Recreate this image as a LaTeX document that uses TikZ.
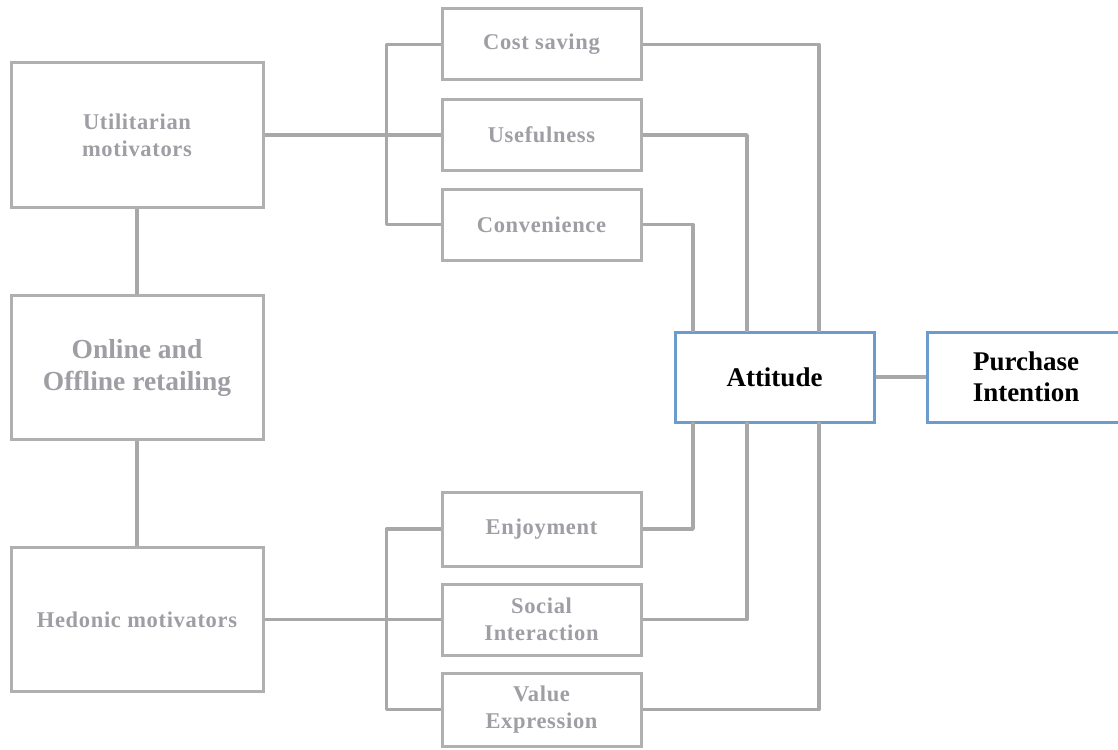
\documentclass[tikz,border=0pt]{standalone}
\usepackage{fontspec}
\setmainfont{Liberation Serif}
\newfontfamily\spacedserif[LetterSpace=3]{Liberation Serif}
\definecolor{linegrey}{RGB}{168,168,168}
\definecolor{boxgrey}{RGB}{176,176,176}
\definecolor{textgrey}{RGB}{158,158,164}
\definecolor{framblue}{RGB}{108,155,205}
\tikzset{
  conn/.style={draw=linegrey, line width=3.6pt},
  greybox/.style={draw=boxgrey, line width=3pt, fill=white, rectangle,
    inner sep=0pt, align=center, text=textgrey,
    font=\spacedserif\bfseries\fontsize{22.5}{27}\selectfont},
  bigbox/.style={greybox, minimum width=252pt, minimum height=144pt,
    font=\bfseries\fontsize{27.5}{32}\selectfont},
  motbox/.style={greybox, minimum width=252pt, minimum height=144pt},
  factor/.style={greybox, minimum width=199pt, minimum height=71pt},
  bluebox/.style={draw=framblue, line width=3pt, fill=white, rectangle,
    inner sep=0pt, align=center, text=black,
    minimum width=199pt, minimum height=90pt,
    font=\bfseries\fontsize{27}{31}\selectfont},
}
\begin{document}
\begin{tikzpicture}[x=1pt, y=-1pt]
  \useasboundingbox (0,0) rectangle (1118,749);
  \clip (0,0) rectangle (1118,749);
  \fill[white] (0,0) rectangle (1118,749);

  % left column
  \node[motbox] (util) at (137,135) {Utilitarian\\motivators};
  \node[bigbox] (retail) at (137,367.5) {Online and\\Offline retailing};
  \node[motbox] (hedo) at (137,619.5) {Hedonic motivators};

  % utilitarian factors
  \node[factor] (cost) at (541.5,44.5) {Cost saving};
  \node[factor] (useful) at (541.5,135) {Usefulness};
  \node[factor] (conv) at (541.5,224.5) {Convenience};

  % hedonic factors
  \node[factor, minimum height=74pt] (enjoy) at (541.5,529) {Enjoyment};
  \node[factor] (social) at (541.5,619.5) {Social\\Interaction};
  \node[factor, minimum height=73pt] (value) at (541.5,709.5) {Value\\Expression};

  % outcome boxes
  \node[bluebox] (att) at (774.5,377) {Attitude};
  \node[bluebox, minimum width=198pt] (purch) at (1026,377) {Purchase\\Intention};

  % feeder points on the attitude box
  \coordinate (aT1) at (693,332);
  \coordinate (aT2) at (747,332);
  \coordinate (aT3) at (819,332);
  \coordinate (aB1) at (693,422);
  \coordinate (aB2) at (747,422);
  \coordinate (aB3) at (819,422);

  % vertical spine on the left
  \draw[conn] (util.south) -- (retail.north);
  \draw[conn] (retail.south) -- (hedo.north);

  % branching into the factors
  \draw[conn] (util.east) -- (useful.west);
  \draw[conn, line join=round] (cost.west) -- ++(-54,0) |- (conv.west);
  \draw[conn] (hedo.east) -- (social.west);
  \draw[conn, line join=round] (enjoy.west) -- ++(-54,0) |- (value.west);

  % factors into attitude
  \draw[conn, line join=round] (cost.east) -| (aT3);
  \draw[conn, line join=round] (useful.east) -| (aT2);
  \draw[conn, line join=round] (conv.east) -| (aT1);
  \draw[conn, line join=round] (enjoy.east) -| (aB1);
  \draw[conn, line join=round] (social.east) -| (aB2);
  \draw[conn, line join=round] (value.east) -| (aB3);

  % attitude to intention
  \draw[conn] (att.east) -- (purch.west);
\end{tikzpicture}
\end{document}
